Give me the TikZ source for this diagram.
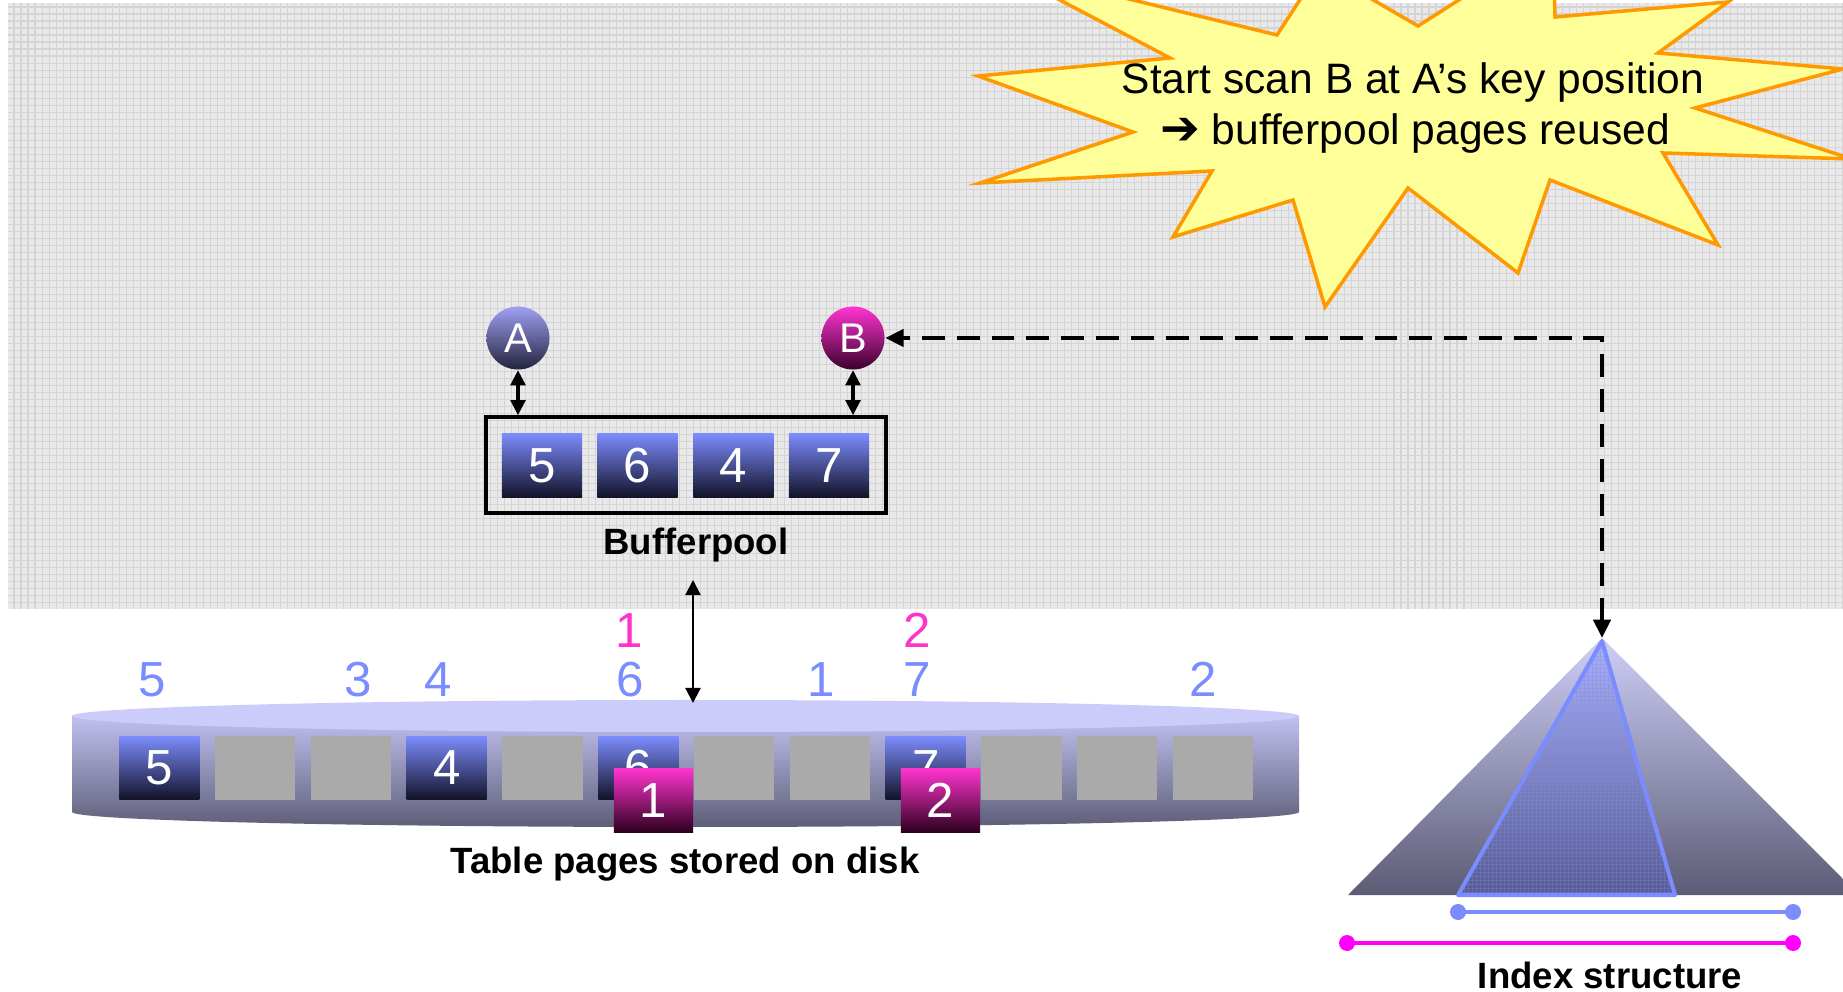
\documentclass[tikz,border=0pt]{standalone}
\usepackage{fontspec}
\setmainfont{Liberation Sans}
\newfontfamily\symfont{DejaVu Sans}
\usetikzlibrary{arrows.meta}

\definecolor{paper}{RGB}{233,233,233}
\definecolor{paperline}{RGB}{212,212,212}
\definecolor{burstfill}{RGB}{255,255,153}
\definecolor{burstline}{RGB}{255,153,0}
\definecolor{pgtop}{RGB}{124,140,252}
\definecolor{pgbot}{RGB}{18,18,40}
\definecolor{pktop}{RGB}{255,52,206}
\definecolor{pkbot}{RGB}{44,0,30}
\definecolor{scanAtop}{RGB}{160,160,244}
\definecolor{scanAbot}{RGB}{35,35,62}
\definecolor{scanBtop}{RGB}{255,52,212}
\definecolor{scanBbot}{RGB}{58,0,42}
\definecolor{disktop}{RGB}{204,204,250}
\definecolor{diskhi}{RGB}{192,192,240}
\definecolor{disklo}{RGB}{94,94,120}
\definecolor{emptypage}{RGB}{170,170,170}
\definecolor{keyblue}{RGB}{123,140,255}
\definecolor{keypink}{RGB}{255,51,204}
\definecolor{rangepink}{RGB}{255,0,255}
\definecolor{treehi}{RGB}{206,206,248}
\definecolor{treelo}{RGB}{92,92,118}
\definecolor{pathhi}{RGB}{170,176,244}
\definecolor{pathlo}{RGB}{86,90,140}

\tikzset{
  digitfont/.style={font=\fontsize{14}{16}\selectfont},
  pgblock/.style={inner sep=0pt, minimum width=0.8cm, minimum height=0.635cm,
    top color=pgtop, bottom color=pgbot, text=white, digitfont},
  pkblock/.style={inner sep=0pt, minimum width=0.79cm, minimum height=0.635cm,
    top color=pktop, bottom color=pkbot, text=white, digitfont},
  emptyblock/.style={inner sep=0pt, minimum width=0.8cm, minimum height=0.64cm,
    fill=emptypage},
  scannode/.style={circle, inner sep=0pt, minimum size=0.63cm, text=white,
    font=\fontsize{11.8}{13}\selectfont},
  caption/.style={font=\bfseries\fontsize{10.4}{12}\selectfont, anchor=base, inner sep=0pt},
  bursttext/.style={font=\fontsize{12.1}{14}\selectfont, anchor=base, inner sep=0pt},
  keylbl/.style={digitfont, anchor=base, inner sep=0pt, text=keyblue},
  hitlbl/.style={digitfont, anchor=base, inner sep=0pt, text=keypink},
  dblarrow/.style={line width=0.9pt, {Triangle[length=4.3pt,width=4.2pt]}-{Triangle[length=4.3pt,width=4.2pt]}},
  thinlink/.style={line width=0.6pt, {Triangle[length=4.3pt,width=4.3pt]}-{Triangle[length=4.3pt,width=4.3pt]}},
  dasharrow/.style={line width=1.25pt, dash pattern=on 6.5pt off 3.4pt,
    {Triangle[length=5.2pt,width=4.8pt]}-{Triangle[length=5.2pt,width=4.8pt]}},
  rangebar/.style={line width=1.2pt},
}

\begin{document}
\begin{tikzpicture}[x=0.01cm, y=-0.01cm]
\useasboundingbox (0,0) rectangle (1843,992);
\clip (0,0) rectangle (1843,992);
\fill[white] (0,0) rectangle (1843,992);

% textured memory area
\fill[paper] (8,3) rectangle (1843,609);
\draw[paperline, line width=0.3pt, step=0.07cm] (8,3) grid (1843,609);

% starburst note
\filldraw[fill=burstfill, draw=burstline, line width=1pt, line join=miter]
  (997,-33) -- (1277,35) -- (1320,-31) -- (1418,26) -- (1553,-60) -- (1555,17)
  -- (1728,2) -- (1658,53) -- (1843,69) -- (1695,108) -- (1852,159) -- (1663,153)
  -- (1718,245) -- (1550,180) -- (1518,273) -- (1408,188) -- (1325,307) -- (1293,200)
  -- (1173,237) -- (1212,171) -- (980,183) -- (1133,132) -- (978,76) -- (1170,58) -- cycle;
\node[bursttext] (note1) at (1413,94) {Start scan B at A’s key position};
\node[bursttext] (note2) at (1415,145) {{\symfont\bfseries\fontsize{13.5}{14}\selectfont ➔} bufferpool pages reused};

% bufferpool
\node[draw, line width=1pt, inner sep=0pt, minimum width=4.0cm, minimum height=0.96cm]
  (pool) at (686,465) {};
\node[pgblock] (bp1) at (542,465.5) {5};
\node[pgblock] (bp2) at (637.5,465.5) {6};
\node[pgblock] (bp3) at (733.5,465.5) {4};
\node[pgblock] (bp4) at (829,465.5) {7};
\node[caption] (poolcap) at (696,555) {Bufferpool};

% scans
\node[scannode, top color=scanAtop, bottom color=scanAbot] (A) at (518,338) {A};
\node[scannode, top color=scanBtop, bottom color=scanBbot] (B) at (853,338) {B};
\draw[dblarrow] (A.south) -- (A.south |- pool.north);
\draw[dblarrow] (B.south) -- (B.south |- pool.north);

% disk
\shade[top color=diskhi, bottom color=disklo]
  (72,716) -- (72,812) arc[start angle=180, end angle=0, x radius=613.5, y radius=15]
  -- (1299,716) -- cycle;
\fill[disktop] (685.5,716) ellipse[x radius=613.5, y radius=16];

\node[pgblock]    (d0)  at (159.3,768) {5};
\node[emptyblock] (d1)  at (255.1,768) {};
\node[emptyblock] (d2)  at (350.9,768) {};
\node[pgblock]    (d3)  at (446.7,768) {4};
\node[emptyblock] (d4)  at (542.5,768) {};
\node[pgblock]    (d5)  at (638.3,768) {6};
\node[emptyblock] (d6)  at (734.1,768) {};
\node[emptyblock] (d7)  at (829.9,768) {};
\node[pgblock]    (d8)  at (925.7,768) {7};
\node[emptyblock] (d9)  at (1021.5,768) {};
\node[emptyblock] (d10) at (1117.3,768) {};
\node[emptyblock] (d11) at (1213.1,768) {};
\node[pkblock] (h1) at (653.5,800.5) {1};
\node[pkblock] (h2) at (940.5,800.5) {2};

% key order of the index scan above the disk pages
\node[keylbl] (k5) at (152,697) {5};
\node[keylbl] (k3) at (358,697) {3};
\node[keylbl] (k4) at (438,697) {4};
\node[keylbl] (k6) at (630,697) {6};
\node[keylbl] (k1) at (821,697) {1};
\node[keylbl] (k7) at (917,697) {7};
\node[keylbl] (k2) at (1203,697) {2};
\node[hitlbl] (p1) at (629,648) {1};
\node[hitlbl] (p2) at (917,648) {2};
\node[caption] (diskcap) at (685,873) {Table pages stored on disk};

\coordinate (linkTop) at (693,580);
\coordinate (linkBot) at (693,703);
\draw[thinlink] (linkTop) -- (linkBot);

% index structure
\shade[top color=treehi, bottom color=treelo] (1602,638) -- (1859,895) -- (1348,895) -- cycle;
\shade[top color=pathhi, bottom color=pathlo] (1602,641) -- (1675,895) -- (1458,895) -- cycle;
\begin{scope}
  \clip (1602,641) -- (1675,895) -- (1458,895) -- cycle;
  \draw[keyblue, opacity=0.35, line width=0.25pt, step=0.04cm] (1450,630) grid (1680,900);
\end{scope}
\draw[keyblue, line width=1.15pt, line join=round] (1602,641) -- (1675,895) -- (1458,895) -- cycle;
\coordinate (apex) at (1602,638);

\coordinate (blueL) at (1458,912);
\coordinate (blueR) at (1793,912);
\coordinate (pinkL) at (1347,943);
\coordinate (pinkR) at (1793,943);
\draw[keyblue, rangebar] (blueL) -- (blueR);
\fill[keyblue] (blueL) circle[radius=8] (blueR) circle[radius=8];
\draw[rangepink, rangebar] (pinkL) -- (pinkR);
\fill[rangepink] (pinkL) circle[radius=8] (pinkR) circle[radius=8];
\node[caption] (idxcap) at (1610,988) {Index structure};

% scan B starts from the index position of A
\draw[dasharrow] (apex) |- (B.east);
\end{tikzpicture}
\end{document}
